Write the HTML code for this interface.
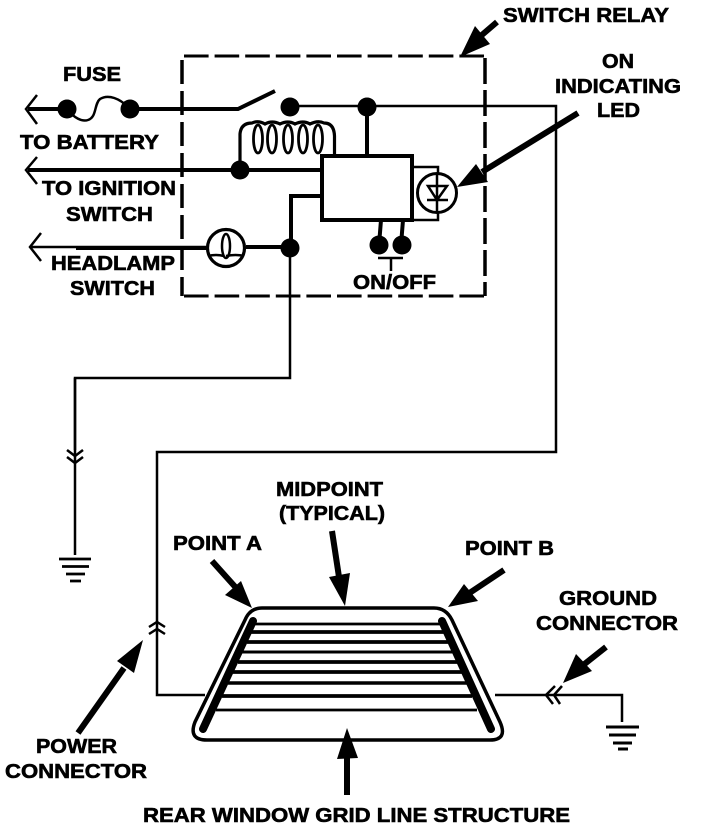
<!DOCTYPE html>
<html><head><meta charset="utf-8"><style>
html,body{margin:0;padding:0;background:#fff;width:704px;height:830px;overflow:hidden}
svg{display:block}
text{font-family:"Liberation Sans",sans-serif;font-weight:700;font-size:20px;fill:#000;stroke:#000;stroke-width:.6}
.l{fill:none;stroke:#000;stroke-width:2.5}
.t{fill:none;stroke:#000;stroke-width:4}
.a{fill:none;stroke:#000;stroke-width:6}
</style></head><body>
<svg width="704" height="830" viewBox="0 0 704 830" xmlns="http://www.w3.org/2000/svg">
<!-- dashed relay box -->
<path d="M184 56H485" fill="none" stroke="#000" stroke-width="3" stroke-dasharray="24.600 6"/>
<path d="M184 296H485" fill="none" stroke="#000" stroke-width="3" stroke-dasharray="24.600 6"/>
<path d="M182 60V296" fill="none" stroke="#000" stroke-width="3.500" stroke-dasharray="24 7"/>
<path d="M485 58V296" fill="none" stroke="#000" stroke-width="3.500" stroke-dasharray="26 6"/>

<!-- battery line -->
<path class="t" d="M28 109H67"/>
<path class="l" stroke-width="3" d="M37 95L26 109L37 124"/>
<path class="l" stroke-width="3" d="M67 109C74 118 82 122 88 120C97 117 94 104 100 99C108 94 120 98 130 109"/>
<path class="t" d="M130 109H238L275 91"/>
<circle cx="67" cy="109" r="9.500"/><circle cx="130" cy="109" r="9.500"/>
<circle cx="290" cy="107" r="9.500"/><circle cx="367" cy="107" r="9.500"/>
<path class="l" d="M290 106H556V452H157V695H205"/>
<path class="t" d="M367 107V156"/>

<!-- coil -->
<path fill="none" stroke="#000" stroke-width="3.200" d="M240 170V134Q241 123 252 123Q258 120 265 124Q272 120 280 124Q288 120 295 124Q303 120 310 124Q318 120 324 123Q334 123 334.500 136V156"/>
<g fill="none" stroke="#000" stroke-width="2.800">
<ellipse cx="258" cy="139" rx="4.500" ry="14"/><ellipse cx="272" cy="139" rx="4.500" ry="14"/><ellipse cx="288" cy="139" rx="4.500" ry="14"/><ellipse cx="303" cy="139" rx="4.500" ry="14"/><ellipse cx="318" cy="139" rx="4.500" ry="14"/>
</g>

<!-- ignition -->
<path class="t" d="M28 170H322"/>
<path class="l" stroke-width="3" d="M37 157L26 170L37 184"/>
<circle cx="240" cy="170" r="9.500"/>

<!-- module -->
<rect x="322" y="156" width="90" height="64" fill="#fff" stroke="#000" stroke-width="4"/>
<path class="t" d="M322 196H291V248"/>
<path class="l" d="M412 167H438V220H412"/>
<circle cx="437" cy="193" r="19.500" fill="#fff" stroke="#000" stroke-width="3"/>
<path class="l" d="M437 174V212M428 186H447L437 200ZM427 200H448"/>
<path class="t" d="M381 220L379 245M403 220L401 245"/>
<circle cx="379" cy="245" r="9.500"/><circle cx="402" cy="245" r="9.500"/>
<path class="l" d="M378 258H403M391 258V271"/>

<!-- headlamp -->
<path class="l" d="M30 247H208"/>
<path class="t" d="M76 248H207M246 247H290"/>
<path class="l" stroke-width="3" d="M41 233L30 247L41 261"/>
<circle cx="226" cy="248" r="18.500" fill="#fff" stroke="#000" stroke-width="3.200"/>
<path class="l" d="M208 256Q216 254 224 256M226 256Q236 254 244 256"/>
<ellipse cx="226" cy="246" rx="4" ry="12" fill="none" stroke="#000" stroke-width="2.500"/>
<circle cx="290" cy="248" r="9.500"/>
<path class="l" d="M290 248V378H75V555"/>
<path class="l" stroke-width="3.500" d="M75 378V450"/>
<path class="l" d="M67 450L75 456L83 450M67 457L75 463L83 457"/>
<path d="M59 559H91M62 566.500H89M66 574H85M70 581H81" stroke="#000" stroke-width="2.800" fill="none"/>

<!-- power connector -->
<path class="l" stroke-width="3" d="M149 627L157 622L165 627M149 634L157 629L165 634"/>

<!-- window -->
<path d="M262 608H434Q446 608 452 620L500 722Q508 740 490 740H207Q188 740 195 722L245 620Q250 608 262 608Z" fill="none" stroke="#000" stroke-width="3.500"/>
<path d="M253 621L203 729M442 621L491 729" stroke="#000" stroke-width="8" stroke-linecap="round" fill="none"/>
<g fill="none" stroke="#000">
<path stroke-width="2.800" d="M255 624H440"/><path stroke-width="3.800" d="M251 632H444"/><path stroke-width="3.800" d="M247 642H448"/><path stroke-width="3" d="M242 652H453"/><path stroke-width="3.800" d="M238 662H458"/><path stroke-width="3.800" d="M233 672H462"/><path stroke-width="3.500" d="M228 683H467"/><path stroke-width="3.800" d="M222 696H472"/><path stroke-width="2.800" d="M216 710H477"/>
</g>

<!-- ground right -->
<path class="l" d="M495 695H622V722"/>
<path class="l" stroke-width="3" d="M555 686L546 695L553 704M562 686L554 695L560 704"/>
<path d="M606 727H639M609 735H636M613 743H632M618 749H628" stroke="#000" stroke-width="3" fill="none"/>

<!-- leader arrows -->
<path class="a" d="M497 22L476 40"/><polygon points="460,57 475,26 490,44"/>
<path class="a" d="M578 113L482 172"/><polygon points="457,187 476,164 488,182"/>
<path class="a" d="M212 561L238 590"/><polygon points="252,608 241,581 225,595"/>
<path class="a" d="M332 531L339 577"/><polygon points="345,606 329,577 350,573"/>
<path class="a" d="M504 570L468 594"/><polygon points="448,607 464,584 478,601"/>
<path class="a" d="M78 733L124 668"/><polygon points="143,640 117,661 134,673"/>
<path class="a" d="M347 795V755"/><polygon points="347,728 337,759 358,758"/>
<path class="a" d="M606 647L582 666"/><polygon points="563,683 576,654 592,671"/>

<!-- labels -->
<text x="63" y="81" textLength="58" lengthAdjust="spacingAndGlyphs">FUSE</text>
<text x="20" y="149" textLength="139" lengthAdjust="spacingAndGlyphs">TO BATTERY</text>
<text x="42" y="195" textLength="134" lengthAdjust="spacingAndGlyphs">TO IGNITION</text>
<text x="66" y="221" textLength="87" lengthAdjust="spacingAndGlyphs">SWITCH</text>
<text x="51" y="270" textLength="124" lengthAdjust="spacingAndGlyphs">HEADLAMP</text>
<text x="70" y="295" textLength="85" lengthAdjust="spacingAndGlyphs">SWITCH</text>
<text x="503" y="22" textLength="166" lengthAdjust="spacingAndGlyphs">SWITCH RELAY</text>
<text x="602" y="68" textLength="32" lengthAdjust="spacingAndGlyphs">ON</text>
<text x="555" y="93" textLength="126" lengthAdjust="spacingAndGlyphs">INDICATING</text>
<text x="597" y="117" textLength="43" lengthAdjust="spacingAndGlyphs">LED</text>
<text x="353" y="289" textLength="83" lengthAdjust="spacingAndGlyphs">ON/OFF</text>
<text x="276" y="496" textLength="107" lengthAdjust="spacingAndGlyphs">MIDPOINT</text>
<text x="279" y="520" textLength="106" lengthAdjust="spacingAndGlyphs">(TYPICAL)</text>
<text x="173" y="550" textLength="89" lengthAdjust="spacingAndGlyphs">POINT A</text>
<text x="465" y="555" textLength="89" lengthAdjust="spacingAndGlyphs">POINT B</text>
<text x="559" y="605" textLength="98" lengthAdjust="spacingAndGlyphs">GROUND</text>
<text x="536" y="630" textLength="142" lengthAdjust="spacingAndGlyphs">CONNECTOR</text>
<text x="36" y="753" textLength="81" lengthAdjust="spacingAndGlyphs">POWER</text>
<text x="5" y="778" textLength="142" lengthAdjust="spacingAndGlyphs">CONNECTOR</text>
<text x="143" y="822" textLength="427" lengthAdjust="spacingAndGlyphs">REAR WINDOW GRID LINE STRUCTURE</text>
</svg>
</body></html>
